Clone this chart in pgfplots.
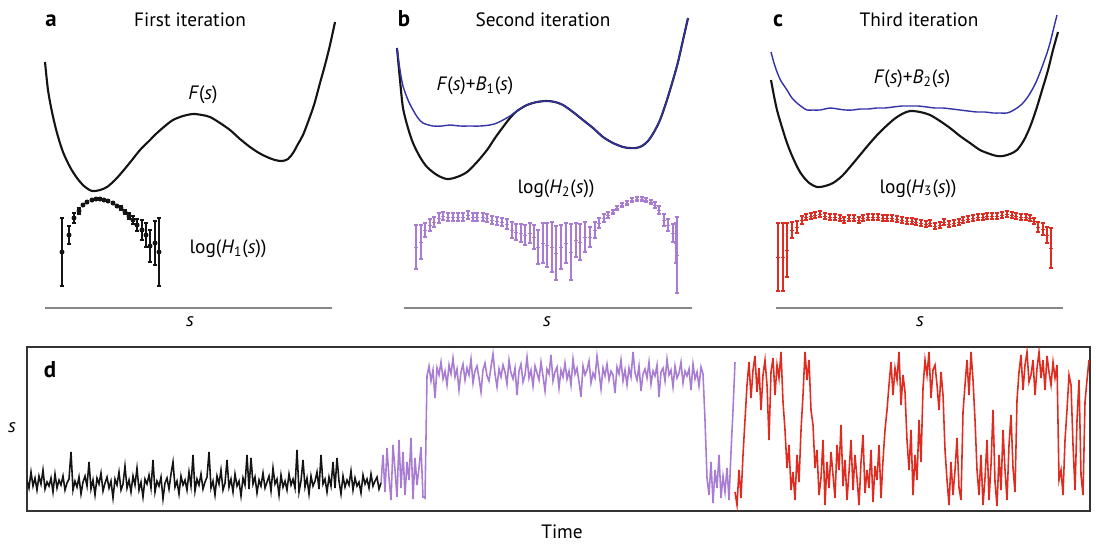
\documentclass[border=0pt]{standalone}
\usepackage{fontspec}
\setmainfont{PT Sans}
\usepackage{pgfplots}
\pgfplotsset{compat=1.18}

\definecolor{trblack}{RGB}{20,20,20}
\definecolor{lav}{RGB}{168,124,210}
\definecolor{trred}{RGB}{224,44,32}
\definecolor{fblue}{RGB}{52,50,168}
\definecolor{basegray}{RGB}{135,135,135}

% one data unit = one pixel of the reference (0.02cm)
\pgfplotsset{
  pix/.style={scale only axis, y dir=reverse, clip=false, anchor=north west},
  ebar/.style={only marks, mark size=1.2pt,
    error bars/.cd, y dir=both, y explicit,
    error bar style={line width=0.6pt},
    error mark=|,
    error mark options={line width=0.6pt, mark size=1.3pt},
    /pgfplots/.cd},
}

\begin{document}
\fontsize{11}{13}\selectfont
\begin{tikzpicture}
\path[use as bounding box] (0,0) rectangle (21.92cm,-10.88cm);

% ===== panels a, b, c =====
\begin{axis}[pix, at={(0,0)}, width=21.92cm, height=10.88cm,
    xmin=0, xmax=1096, ymin=0, ymax=544, axis lines=none]

% baselines
\addplot[basegray, line width=0.7pt] coordinates {(45,308) (332,308)};
\addplot[basegray, line width=0.7pt] coordinates {(404,308) (692,308)};
\addplot[basegray, line width=0.7pt] coordinates {(776,308) (1063,308)};

% --- a: F(s)
\addplot[trblack, line width=1.2pt, smooth] coordinates {
 (45,62) (48,90) (52,112) (57,133) (63,152) (70,167) (77,178) (84,186)
 (92,191) (100,190) (107,187) (115,180) (123,171) (132,160) (140,150)
 (149,141) (157,133) (165,126) (173,120) (183,116) (193,114) (202,115)
 (210,117) (220,123) (230,130) (240,139) (250,147) (259,153) (267,157)
 (275,160) (282,161) (288,159) (293,153) (298,144) (303,135) (308,122)
 (314,105) (320,83) (325,65) (330,45) (335,22)};

% --- a: log H1
\addplot[trblack, mark=*, ebar] coordinates {
 (62,252) +- (0,34) (69,235) +- (0,9) (74,218) +- (0,5) (79,211) +- (0,3)
 (83,205) +- (0,1) (87,202) +- (0,0.5) (92,200) +- (0,0) (96,199) +- (0,0)
 (100,199) +- (0,0) (104,200) +- (0,0) (108,201) +- (0,0.5) (113,203) +- (0,1)
 (117,206) +- (0,1.5) (121,208) +- (0,2) (125,212) +- (0,2.5) (129,216) +- (0,3)
 (133,220) +- (0,4) (137,225) +- (0,6) (142,230) +- (0,10) (146,235) +- (0,12)
 (150,246) +- (0,16) (155,243) +- (0,22) (159,252) +- (0,34)};

% --- b: F(s) and F(s)+B1(s)
\addplot[trblack, line width=1.2pt, smooth] coordinates {
 (397,48) (400,80) (403,108) (408,128) (413,143) (420,157) (427,167) (437,175)
 (447,179) (457,177) (467,172) (477,162) (487,150) (495,138) (503,127)
 (510,118) (517,111) (527,105) (537,102) (547,101) (555,102) (563,105)
 (573,112) (583,120) (593,128) (603,137) (613,143) (623,147) (630,148)
 (636,148) (642,146) (648,141) (654,132) (660,120) (666,103) (673,80)
 (678,62) (683,40) (688,18)};
\addplot[fblue, line width=0.8pt, smooth] coordinates {
 (397,48) (400,70) (403,86) (408,100) (413,110) (418,118) (423,123) (433,126)
 (442,126) (450,125) (460,126) (470,126) (480,126) (490,125) (497,123)
 (503,120) (510,116) (517,111) (527,105) (537,102) (547,101) (555,102)
 (563,105) (573,112) (583,120) (593,128) (603,137) (613,143) (623,147)
 (630,148) (636,148) (642,146) (648,141) (654,132) (660,120) (666,103)
 (673,80) (678,62) (683,40) (688,18)};

% --- b: log H2
\addplot[lav, mark=-, ebar] coordinates {
 (416,247) +- (0,22) (421,242) +- (0,17) (425,230) +- (0,7) (430,225) +- (0,6)
 (434,222) +- (0,5) (439,218) +- (0,5) (443,216) +- (0,4) (448,217) +- (0,4)
 (453,217) +- (0,4) (458,217) +- (0,4) (463,217) +- (0,4) (468,215) +- (0,4)
 (473,217) +- (0,4) (477,217) +- (0,4) (483,217) +- (0,4) (487,218) +- (0,4)
 (492,220) +- (0,4) (497,221) +- (0,4) (502,222) +- (0,4) (507,224) +- (0,5)
 (512,230) +- (0,8) (516,232) +- (0,8) (521,233) +- (0,9) (525,235) +- (0,10)
 (530,233) +- (0,10) (534,237) +- (0,12) (538,247) +- (0,17) (543,243) +- (0,20)
 (547,245) +- (0,22) (552,247) +- (0,25) (556,253) +- (0,27) (561,247) +- (0,22)
 (566,243) +- (0,20) (571,252) +- (0,28) (576,240) +- (0,17) (580,242) +- (0,18)
 (585,237) +- (0,15) (590,237) +- (0,10) (595,230) +- (0,8) (599,223) +- (0,5)
 (604,218) +- (0,4) (608,215) +- (0,3) (613,212) +- (0,2) (617,208) +- (0,2)
 (622,205) +- (0,2) (627,203) +- (0,2) (632,200) +- (0,2) (637,199) +- (0,2)
 (642,199) +- (0,2) (646,200) +- (0,2) (651,202) +- (0,2) (655,205) +- (0,3)
 (659,210) +- (0,4) (664,220) +- (0,6) (668,225) +- (0,6) (673,233) +- (0,9)
 (676,243) +- (0,20) (677,255) +- (0,38)};

% --- c: F(s)+B2(s) and F(s)
\addplot[fblue, line width=0.8pt, smooth] coordinates {
 (771,52) (774,63) (777,72) (781,81) (787,90) (792,98) (797,103) (802,107)
 (807,110) (813,110) (820,110) (830,108) (838,109) (845,110) (853,110)
 (860,109) (868,109) (877,108) (885,108) (893,107) (902,106) (910,106)
 (918,106) (927,107) (935,108) (943,108) (952,109) (960,110) (968,111)
 (977,112) (985,112) (993,113) (1000,113) (1007,113) (1012,111) (1017,108)
 (1022,104) (1027,98) (1032,90) (1037,80) (1042,67) (1047,53) (1050,43)
 (1053,31) (1057,15)};
\addplot[trblack, line width=1.2pt, smooth] coordinates {
 (771,80) (774,96) (777,110) (781,124) (787,143) (793,158) (800,172) (808,182)
 (817,187) (825,186) (833,183) (842,176) (850,167) (860,155) (870,143)
 (880,132) (893,120) (902,114) (910,111) (920,112) (930,115) (940,121)
 (950,128) (960,136) (970,143) (980,150) (990,154) (997,156) (1003,156)
 (1010,154) (1017,150) (1024,140) (1030,127) (1036,110) (1043,87) (1048,70)
 (1053,50) (1058,32)};

% --- c: log H3
\addplot[trred, mark=-, ebar] coordinates {
 (778,257) +- (0,34) (783,257) +- (0,34) (787,250) +- (0,27) (792,230) +- (0,8)
 (797,227) +- (0,6) (802,220) +- (0,4) (806,217) +- (0,3) (811,216) +- (0,3)
 (815,215) +- (0,3) (820,214) +- (0,3) (825,216) +- (0,3) (830,217) +- (0,3)
 (835,217) +- (0,3) (840,218) +- (0,3) (844,220) +- (0,3) (849,218) +- (0,3)
 (854,218) +- (0,3) (859,220) +- (0,3) (863,218) +- (0,3) (868,217) +- (0,3)
 (873,217) +- (0,3) (878,217) +- (0,3) (883,218) +- (0,3) (887,218) +- (0,3)
 (892,218) +- (0,3) (897,219) +- (0,3) (902,220) +- (0,3) (907,221) +- (0,3)
 (912,221) +- (0,3) (916,222) +- (0,3) (921,223) +- (0,3) (926,224) +- (0,3)
 (930,223) +- (0,3) (935,226) +- (0,3) (940,225) +- (0,3) (944,222) +- (0,3)
 (949,224) +- (0,3) (954,223) +- (0,3) (959,222) +- (0,3) (963,220) +- (0,3)
 (968,219) +- (0,3) (973,218) +- (0,3) (978,217) +- (0,3) (983,217) +- (0,3)
 (987,216) +- (0,3) (992,216) +- (0,3) (997,216) +- (0,3) (1002,215) +- (0,3)
 (1007,214) +- (0,3) (1012,215) +- (0,3) (1016,216) +- (0,3) (1021,217) +- (0,3)
 (1026,217) +- (0,3) (1030,218) +- (0,3) (1034,221) +- (0,3) (1038,227) +- (0,5)
 (1043,229) +- (0,6) (1047,235) +- (0,8) (1051,248) +- (0,20)};

% texts
\node[anchor=base] at (axis cs:51,26) {\fontsize{13}{14}\selectfont\textbf{a}};
\node[anchor=base] at (axis cs:404,26) {\fontsize{13}{14}\selectfont\textbf{b}};
\node[anchor=base] at (axis cs:778,26) {\fontsize{13}{14}\selectfont\textbf{c}};
\node[anchor=base] at (axis cs:190,26) {First iteration};
\node[anchor=base] at (axis cs:543,26) {Second iteration};
\node[anchor=base] at (axis cs:919,26) {Third iteration};
\node[anchor=base] at (axis cs:203,99) {\textit{F}(\textit{s})};
\node[anchor=base] at (axis cs:475,90) {\textit{F}(\textit{s})+\textit{B}\textsubscript{1}(\textit{s})};
\node[anchor=base] at (axis cs:912,83) {\textit{F}(\textit{s})+\textit{B}\textsubscript{2}(\textit{s})};
\node[anchor=base] at (axis cs:228,253) {log(\textit{H}\textsubscript{1}(\textit{s}))};
\node[anchor=base] at (axis cs:556,193) {log(\textit{H}\textsubscript{2}(\textit{s}))};
\node[anchor=base] at (axis cs:918,193) {log(\textit{H}\textsubscript{3}(\textit{s}))};
\node[anchor=base] at (axis cs:190,326) {\textit{s}};
\node[anchor=base] at (axis cs:547,326) {\textit{s}};
\node[anchor=base] at (axis cs:920,326) {\textit{s}};
\node[anchor=base] at (axis cs:562,538) {Time};
\node[anchor=base] at (axis cs:12,432) {\textit{s}};
\end{axis}

% ===== panel d: trajectory of s over time =====
\begin{axis}[pix, at={(0.54cm,-6.94cm)}, width=21.26cm, height=3.28cm,
    xmin=27, xmax=1090, ymin=347, ymax=511, clip=true,
    axis line style={draw=black!80, line width=0.6pt}, ticks=none]
\addplot[trblack, line width=0.9pt] table[row sep=\\, header=false, x expr=27+2*\coordindex, y index=0] {
480\\488\\472\\486\\478\\490\\476\\484\\470\\489\\
482\\486\\478\\492\\474\\488\\480\\485\\476\\490\\
483\\479\\452\\490\\481\\487\\477\\494\\482\\476\\
486\\462\\489\\480\\495\\478\\484\\473\\491\\483\\
477\\488\\481\\498\\479\\485\\472\\490\\484\\466\\
488\\480\\492\\476\\485\\468\\490\\482\\497\\479\\
484\\475\\488\\460\\492\\481\\486\\477\\499\\483\\
478\\489\\474\\462\\487\\481\\494\\476\\485\\480\\
490\\472\\486\\455\\491\\479\\485\\474\\489\\482\\
477\\452\\488\\481\\495\\476\\484\\470\\490\\483\\
460\\487\\479\\492\\474\\486\\481\\496\\478\\485\\
455\\489\\458\\484\\477\\493\\480\\486\\473\\488\\
482\\476\\491\\468\\484\\479\\495\\475\\487\\481\\
490\\474\\485\\479\\488\\450\\492\\481\\460\\487\\
478\\494\\476\\486\\481\\472\\489\\455\\484\\479\\
492\\477\\486\\462\\488\\458\\481\\494\\476\\487\\
480\\485\\471\\490\\478\\486\\482\\493\\475\\484\\
479\\488\\474\\486\\481\\477\\489\\483\\
};
\addplot[lav, line width=0.9pt] table[row sep=\\, header=false, x expr=381+2*\coordindex, y index=0] {
483\\455\\492\\448\\478\\500\\445\\470\\497\\440\\
488\\452\\495\\462\\480\\438\\499\\458\\485\\468\\
447\\497\\498\\
376\\366\\381\\370\\398\\368\\375\\362\\379\\371\\
385\\365\\374\\358\\377\\369\\390\\372\\364\\380\\
368\\375\\359\\383\\371\\366\\378\\392\\370\\363\\
376\\381\\367\\354\\374\\387\\369\\377\\365\\372\\
384\\360\\373\\379\\368\\395\\371\\364\\382\\375\\
357\\378\\370\\386\\366\\373\\380\\362\\376\\391\\
369\\374\\355\\381\\372\\367\\388\\370\\377\\363\\
379\\371\\385\\359\\374\\368\\382\\397\\366\\375\\
370\\361\\383\\373\\378\\356\\372\\389\\368\\376\\
364\\380\\371\\375\\393\\367\\374\\360\\381\\370\\
385\\368\\377\\352\\373\\380\\366\\391\\374\\369\\
378\\362\\384\\371\\376\\365\\397\\372\\368\\381\\
359\\375\\370\\387\\366\\378\\373\\362\\383\\371\\
376\\369\\390\\364\\379\\372\\386\\367\\374\\
420\\478\\495\\462\\503\\470\\488\\455\\498\\476\\
492\\468\\500\\452\\410\\362\\
};
\addplot[trred, line width=0.9pt] table[row sep=\\, header=false, x expr=735+2*\coordindex, y index=0] {
492\\505\\470\\498\\455\\420\\385\\362\\398\\370\\
356\\392\\368\\410\\375\\360\\385\\440\\372\\358\\
395\\365\\378\\352\\402\\430\\468\\445\\490\\472\\
500\\455\\482\\430\\395\\352\\380\\360\\410\\425\\
468\\450\\495\\478\\440\\505\\462\\488\\452\\475\\
498\\445\\470\\425\\486\\460\\500\\472\\440\\490\\
455\\478\\505\\462\\435\\493\\470\\488\\450\\502\\
466\\480\\445\\498\\460\\430\\410\\385\\362\\395\\
368\\380\\352\\405\\375\\392\\440\\470\\430\\495\\
455\\480\\420\\462\\388\\360\\375\\352\\398\\370\\
365\\385\\410\\372\\395\\450\\480\\505\\462\\495\\
470\\438\\488\\500\\412\\385\\360\\395\\352\\380\\
420\\470\\495\\455\\505\\478\\440\\500\\465\\410\\
482\\506\\455\\490\\430\\470\\500\\445\\415\\468\\
492\\400\\372\\355\\390\\365\\352\\382\\375\\360\\
395\\368\\352\\378\\360\\390\\356\\372\\385\\362\\
378\\365\\480\\470\\495\\440\\410\\375\\385\\445\\
490\\420\\380\\475\\495\\402\\380\\360\\
};
\node[anchor=base] at (axis cs:50,377) {\fontsize{13}{14}\selectfont\textbf{d}};
\end{axis}
\end{tikzpicture}
\end{document}
